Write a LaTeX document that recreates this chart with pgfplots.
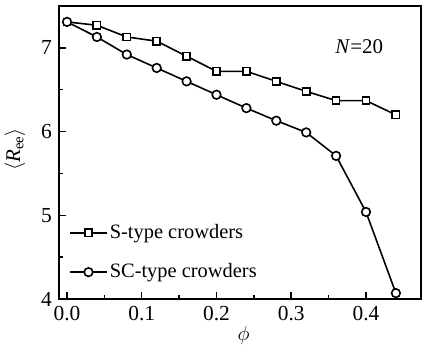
\documentclass[border=0pt]{standalone}
\usepackage{fontspec}
\setmainfont{Liberation Serif}
\usepackage{pgfplots}
\pgfplotsset{compat=1.18}
\begin{document}
\fontsize{21}{24}\selectfont
\begin{tikzpicture}
\begin{axis}[
  scale only axis,
  anchor=south west, at={(0,0)},
  width=362bp, height=293bp,
  xmin=-0.0107, xmax=0.4736,
  ymin=4, ymax=7.5,
  xtick={0,0.1,0.2,0.3,0.4},
  xticklabels={0.0,0.1,0.2,0.3,0.4},
  ytick={4,5,6,7},
  minor x tick num=1,
  minor y tick num=1,
  xtick pos=bottom, ytick pos=left,
  tick align=inside,
  major tick length=7bp, minor tick length=4bp,
  axis line style={line width=1.8pt},
  every tick/.style={line width=1.5pt, black},
  /pgf/number format/assume math mode=true,
  ticklabel style={font=\fontsize{21.5}{24}\selectfont},
  xlabel={$\phi$}, ylabel={$\langle$\textit{R}$_{\mathrm{ee}}\rangle$},
  every axis x label/.style={at={(rel axis cs:0.51,0)}, anchor=center, yshift=-36bp, font=\fontsize{21}{24}\selectfont},
  every axis y label/.style={at={(rel axis cs:0,0.51)}, anchor=center, rotate=90, yshift=44bp, font=\fontsize{21}{24}\selectfont},
  legend style={draw=none, fill=none, at={(rel axis cs:0,0)}, anchor=south west, xshift=10bp, yshift=16bp,
    font=\fontsize{20.5}{24}\selectfont, row sep=18bp, inner sep=0pt,
    nodes={inner sep=2bp}},
  legend cell align=left,
  legend image code/.code={\draw[#1,mark repeat=2,mark phase=2] plot coordinates {(0bp,0bp)(18.5bp,0bp)(37bp,0bp)};},
]
\addplot[black, line width=1.6pt, mark=square*, mark size=3.6bp, mark options={fill=white, line width=1.6pt}] coordinates {
(0.00,7.31)(0.04,7.27)(0.08,7.13)(0.12,7.08)(0.16,6.90)(0.20,6.72)(0.24,6.72)(0.28,6.60)(0.32,6.48)(0.36,6.37)(0.40,6.37)(0.44,6.20)};
\addlegendentry{S-type crowders}
\addplot[black, line width=1.6pt, mark=*, mark size=4.3bp, mark options={fill=white, line width=1.6pt}] coordinates {
(0.00,7.31)(0.04,7.13)(0.08,6.92)(0.12,6.76)(0.16,6.60)(0.20,6.44)(0.24,6.28)(0.28,6.13)(0.32,5.99)(0.36,5.71)(0.40,5.04)(0.44,4.07)};
\addlegendentry{SC-type crowders}
\node[anchor=center, font=\fontsize{21}{24}\selectfont] at (axis cs:0.391,7.02) {\textit{N}=20};
\end{axis}
\pgfresetboundingbox
\path[use as bounding box] (-59bp,-53bp) rectangle (363bp,299bp);
\end{tikzpicture}
\end{document}
